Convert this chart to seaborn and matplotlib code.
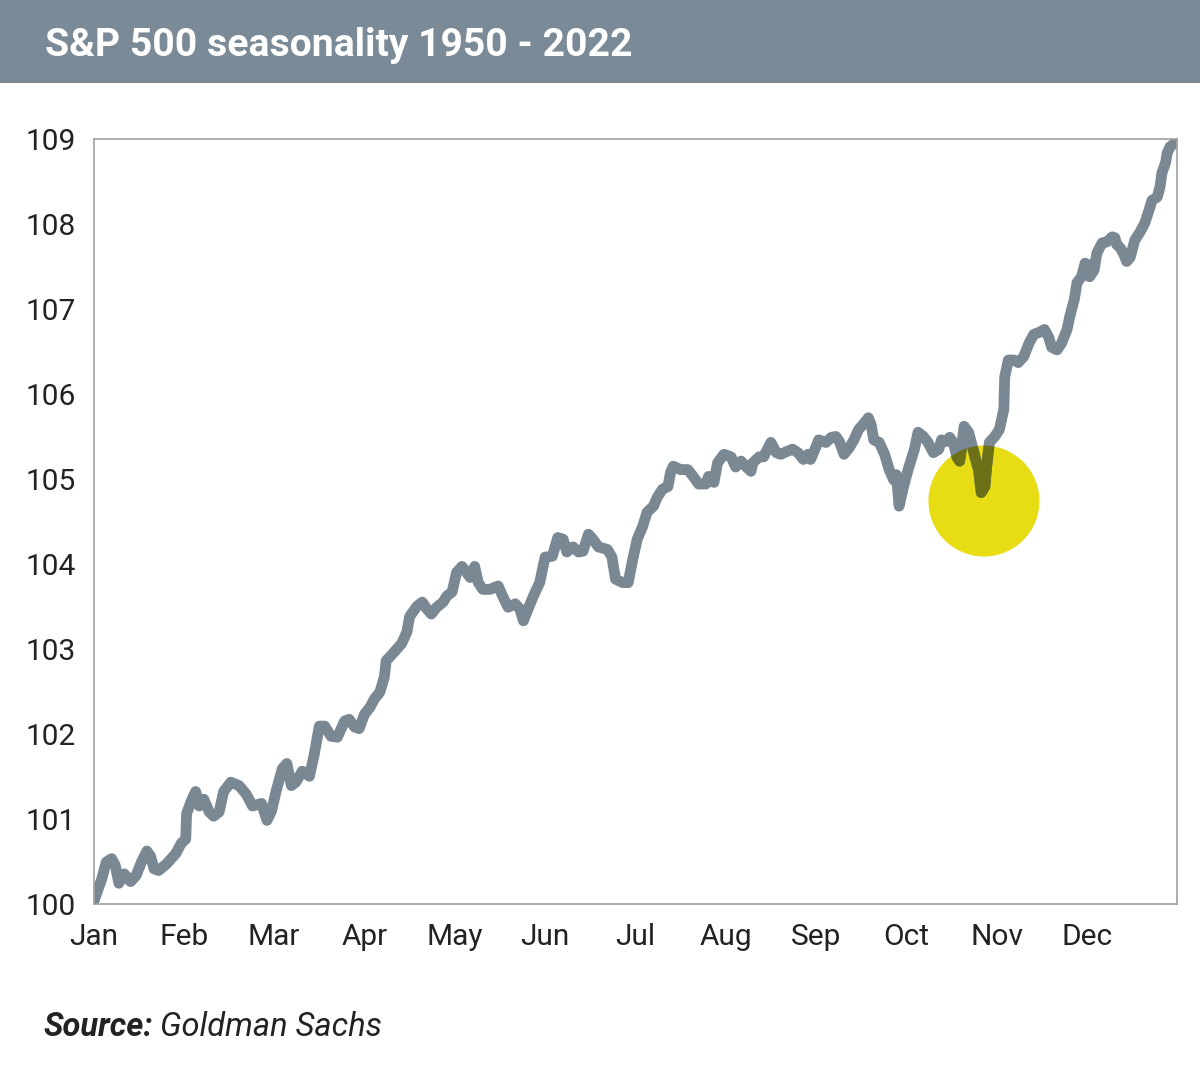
import matplotlib
matplotlib.use("Agg")
import matplotlib.pyplot as plt
import matplotlib.transforms as mtransforms
from matplotlib.patches import Circle, Rectangle
import seaborn as sns
import pandas as pd

# month position (0 = 1 Jan, 12 = 31 Dec) and index level
months = [0.00, 0.09, 0.14, 0.20, 0.24, 0.28, 0.34, 0.41, 0.47, 0.53, 0.59, 0.63, 0.67, 0.72,
          0.81, 0.91, 0.97, 1.02, 1.03, 1.09, 1.13, 1.17, 1.22, 1.28, 1.33, 1.39, 1.44, 1.52,
          1.61, 1.69, 1.76, 1.86, 1.89, 1.92, 1.97, 2.02, 2.09, 2.14, 2.19, 2.24, 2.31, 2.39,
          2.44, 2.50, 2.56, 2.63, 2.70, 2.78, 2.83, 2.89, 2.94, 3.00, 3.06, 3.11, 3.17, 3.22,
          3.24, 3.31, 3.41, 3.47, 3.50, 3.58, 3.64, 3.69, 3.74, 3.80, 3.87, 3.91, 3.97, 4.02,
          4.08, 4.17, 4.22, 4.26, 4.31, 4.39, 4.48, 4.53, 4.59, 4.67, 4.72, 4.76, 4.80, 4.87,
          4.94, 5.00, 5.08, 5.14, 5.20, 5.24, 5.31, 5.37, 5.42, 5.48, 5.53, 5.59, 5.69, 5.74,
          5.78, 5.86, 5.92, 5.97, 6.02, 6.08, 6.13, 6.20, 6.24, 6.30, 6.36, 6.39, 6.42, 6.50,
          6.58, 6.64, 6.70, 6.78, 6.81, 6.87, 6.91, 6.98, 7.06, 7.11, 7.17, 7.22, 7.28, 7.30,
          7.37, 7.42, 7.50, 7.56, 7.61, 7.67, 7.74, 7.80, 7.86, 7.91, 7.94, 8.00, 8.03, 8.11,
          8.17, 8.22, 8.26, 8.31, 8.37, 8.42, 8.47, 8.52, 8.58, 8.61, 8.64, 8.70, 8.76, 8.81,
          8.86, 8.89, 8.92, 8.97, 9.02, 9.09, 9.13, 9.19, 9.24, 9.30, 9.36, 9.39, 9.44, 9.48,
          9.52, 9.56, 9.59, 9.61, 9.64, 9.69, 9.72, 9.76, 9.80, 9.83, 9.87, 9.89, 9.92, 9.98,
          10.03, 10.08, 10.09, 10.13, 10.19, 10.24, 10.30, 10.36, 10.41, 10.48, 10.53, 10.58,
          10.61, 10.67, 10.72, 10.78, 10.81, 10.86, 10.89, 10.94, 10.98, 11.02, 11.03, 11.08,
          11.11, 11.17, 11.22, 11.28, 11.31, 11.33, 11.37, 11.41, 11.44, 11.48, 11.53, 11.59,
          11.64, 11.69, 11.72, 11.78, 11.81, 11.83, 11.87, 11.89, 11.92, 11.97, 12.00]
level = [100.02, 100.29, 100.49, 100.53, 100.45, 100.24, 100.35, 100.26, 100.33, 100.49,
         100.62, 100.56, 100.41, 100.39, 100.47, 100.59, 100.71, 100.76, 101.06, 101.23,
         101.32, 101.15, 101.23, 101.08, 101.03, 101.08, 101.32, 101.43, 101.39, 101.29,
         101.15, 101.18, 101.08, 100.98, 101.09, 101.32, 101.59, 101.65, 101.39, 101.43,
         101.56, 101.50, 101.74, 102.09, 102.09, 101.97, 101.96, 102.15, 102.17, 102.08,
         102.06, 102.23, 102.31, 102.41, 102.49, 102.67, 102.86, 102.94, 103.06, 103.20,
         103.38, 103.50, 103.55, 103.47, 103.41, 103.49, 103.55, 103.62, 103.67, 103.90,
         103.97, 103.84, 103.97, 103.78, 103.70, 103.70, 103.74, 103.62, 103.49, 103.53,
         103.47, 103.33, 103.44, 103.62, 103.78, 104.08, 104.09, 104.31, 104.29, 104.14,
         104.20, 104.14, 104.15, 104.35, 104.29, 104.20, 104.17, 104.08, 103.82, 103.78,
         103.78, 104.05, 104.29, 104.44, 104.61, 104.68, 104.78, 104.88, 104.91, 105.08,
         105.15, 105.11, 105.11, 105.03, 104.94, 104.94, 105.03, 104.96, 105.19, 105.29,
         105.26, 105.14, 105.21, 105.15, 105.09, 105.19, 105.26, 105.26, 105.43, 105.31,
         105.29, 105.32, 105.35, 105.31, 105.23, 105.29, 105.23, 105.38, 105.46, 105.43,
         105.49, 105.50, 105.44, 105.29, 105.37, 105.46, 105.58, 105.64, 105.72, 105.64,
         105.46, 105.43, 105.29, 105.11, 104.99, 105.05, 104.68, 104.91, 105.11, 105.35,
         105.55, 105.50, 105.43, 105.31, 105.35, 105.46, 105.44, 105.49, 105.43, 105.26,
         105.21, 105.35, 105.62, 105.55, 105.43, 105.26, 105.11, 104.84, 104.91, 105.15,
         105.43, 105.50, 105.58, 105.82, 106.20, 106.40, 106.40, 106.37, 106.44, 106.60,
         106.70, 106.73, 106.76, 106.66, 106.55, 106.52, 106.60, 106.76, 106.91, 107.11,
         107.31, 107.38, 107.54, 107.52, 107.38, 107.46, 107.66, 107.78, 107.79, 107.85,
         107.84, 107.76, 107.72, 107.64, 107.56, 107.61, 107.81, 107.91, 108.01, 108.17,
         108.28, 108.32, 108.44, 108.60, 108.72, 108.84, 108.91, 108.95, 108.97]

month_labels = ["Jan", "Feb", "Mar", "Apr", "May", "Jun",
                "Jul", "Aug", "Sep", "Oct", "Nov", "Dec"]
y_ticks = [100, 101, 102, 103, 104, 105, 106, 107, 108, 109]

# highlighted late-October dip
highlight_month = 9.86
highlight_level = 104.74

title = "S&P 500 seasonality 1950 - 2022"

df = pd.DataFrame({"month": months, "level": level})

sns.set_style("white")
plt.rcParams["font.family"] = ["Roboto", "DejaVu Sans"]

line_color = "#7a8894"
yellow = "#e8dc14"
olive = "#6c7017"
spine_color = "#a0a0a0"

fig = plt.figure(figsize=(12, 10.79), dpi=100)
ax = fig.add_axes([0.078, 0.1625, 0.903, 0.7085])

# header band
fig.patches.append(Rectangle((0, 1 - 83 / 1079), 1, 83 / 1079, transform=fig.transFigure,
                             facecolor="#7b8a97", edgecolor="none", zorder=0))
fig.text(45 / 1200, 1 - 46 / 1079, title, color="white", fontsize=28.2,
         fontweight="bold", va="center", ha="left")

ax.set_xlim(0, 12)
ax.set_ylim(100, 109)

# yellow highlight circle, fixed size on screen
circle_trans = (mtransforms.Affine2D().scale(0.555) + fig.dpi_scale_trans +
                mtransforms.ScaledTranslation(highlight_month, highlight_level, ax.transData))
circle = Circle((0, 0), 1, transform=circle_trans, facecolor=yellow,
                edgecolor="none", zorder=1)
ax.add_patch(circle)

sns.lineplot(data=df, x="month", y="level", ax=ax, color=line_color, linewidth=7.8,
             sort=False, estimator=None, zorder=2)
# part of the line inside the circle looks darker (multiplied)
over, = ax.plot(df["month"], df["level"], color=olive, linewidth=7.8, zorder=3)
over.set_clip_path(circle)

ax.set_xticks(range(12))
ax.set_xticklabels(month_labels)
ax.set_yticks(y_ticks)
ax.set_yticklabels([str(t) for t in y_ticks])
ax.set_xlabel("")
ax.set_ylabel("")
ax.tick_params(axis="both", labelsize=21.5, colors=spine_color, labelcolor="#222222",
               length=9, width=1.2, direction="out")
ax.tick_params(axis="x", pad=5)
ax.tick_params(axis="y", pad=4)
for s in ax.spines.values():
    s.set_color(spine_color)
    s.set_linewidth(1.2)

# source note
src = fig.text(43 / 1200, 1 - 1027 / 1079, "Source:", fontsize=23.5, fontweight="bold",
               style="italic", color="#222222", va="center", ha="left")
fig.canvas.draw()
bb = src.get_window_extent()
fig.text((bb.x1 + 7) / fig.bbox.width, 1 - 1027 / 1079, "Goldman Sachs", fontsize=23.5,
         style="italic", color="#222222", va="center", ha="left")

fig.savefig("out.png", dpi=100)
